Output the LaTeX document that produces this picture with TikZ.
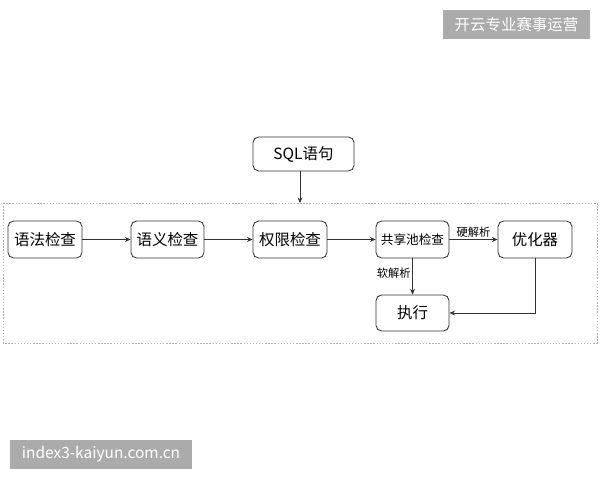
\documentclass[tikz,border=0pt]{standalone}
\usepackage{fontspec}
\setmainfont{Noto Sans CJK SC}
\usetikzlibrary{arrows.meta}
\begin{document}
\begin{tikzpicture}[x=0.025cm,y=-0.025cm,
  box/.style={draw=black!80,line width=0.6pt,rounded corners=4pt,fill=white,inner sep=0pt,font=\fontsize{11}{12}\selectfont},
  arr/.style={draw=black!80,line width=0.5pt,-{Stealth[length=4pt,width=3.5pt]}},
  lbl/.style={font=\fontsize{8}{9}\selectfont,inner sep=1pt},
  wm/.style={fill=black!33,text=white,inner sep=0pt,font=\fontsize{11}{12}\selectfont}]
\useasboundingbox (0,0) rectangle (600,480);
\fill[white] (0,0) rectangle (600,480);
% watermarks
\node[wm,minimum width=3.675cm,minimum height=0.725cm] (wm1) at (516.5,24.5) {开云专业赛事运营};
\node[wm,minimum width=4.55cm,minimum height=0.725cm] (wm2) at (101,454.5) {index3-kaiyun.com.cn};
% dashed container
\draw[black!30,dash pattern=on 1pt off 1.2pt,line width=0.4pt] (3,203) rectangle (597,343);
\coordinate (top) at (300,203);
% nodes
\node[box,minimum width=2.525cm,minimum height=0.85cm] (sql) at (303.5,154) {SQL语句};
\node[box,minimum width=1.85cm,minimum height=0.925cm] (a) at (45,239.5) {语法检查};
\node[box,minimum width=1.825cm,minimum height=0.925cm] (b) at (167.5,239.5) {语义检查};
\node[box,minimum width=1.85cm,minimum height=0.925cm] (c) at (290,239.5) {权限检查};
\node[box,minimum width=1.825cm,minimum height=0.925cm,font=\fontsize{9}{10}\selectfont] (d) at (412.5,239.5) {共享池检查};
\node[box,minimum width=1.85cm,minimum height=0.925cm] (e) at (535,239.5) {优化器};
\node[box,minimum width=1.825cm,minimum height=0.9cm] (f) at (412.5,313) {执行};
% connectors
\draw[arr] (sql.south -| top) -- (top);
\draw[arr] (a) -- (b);
\draw[arr] (b) -- (c);
\draw[arr] (c) -- (d);
\draw[arr] (d) -- node[lbl,above] {硬解析} (e);
\draw[arr] (d.south) -- node[lbl,left,pos=0.42] {软解析} (f.north);
\draw[arr] (e.south) |- (f.east);
\end{tikzpicture}
\end{document}
